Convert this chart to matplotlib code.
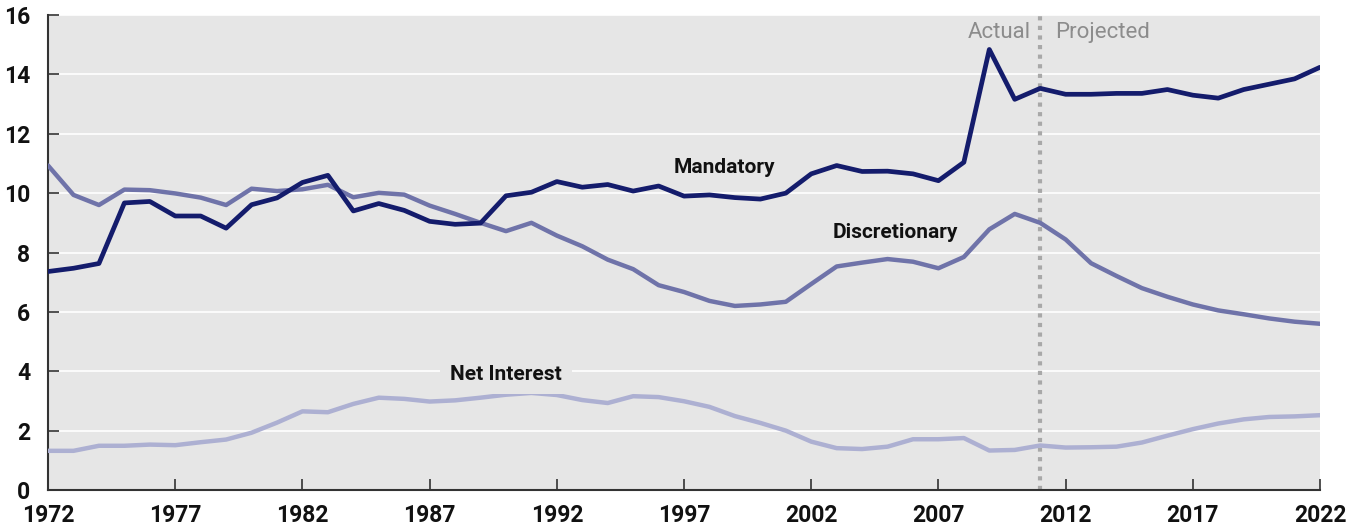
import matplotlib
matplotlib.use("Agg")
import matplotlib.pyplot as plt
import numpy as np

plt.rcParams['font.family'] = ['Roboto', 'DejaVu Sans']

# --- данные ---
years = np.arange(1972, 2023)

mandatory = [7.36, 7.47, 7.63, 9.67, 9.72, 9.23, 9.23, 8.82, 9.61, 9.84,
             10.36, 10.6, 9.4, 9.65, 9.42, 9.05, 8.95, 8.99, 9.91, 10.03,
             10.39, 10.2, 10.29, 10.07, 10.24, 9.9, 9.94, 9.85, 9.8, 10.0,
             10.65, 10.93, 10.73, 10.74, 10.65, 10.42, 11.04, 14.84, 13.16, 13.53,
             13.33, 13.33, 13.36, 13.36, 13.49, 13.3, 13.2, 13.49, 13.67, 13.85,
             14.24]

discretionary = [10.93, 9.94, 9.6, 10.12, 10.1, 9.99, 9.85, 9.6, 10.15, 10.07,
                 10.13, 10.28, 9.86, 10.01, 9.95, 9.58, 9.3, 9.0, 8.72, 9.0,
                 8.57, 8.21, 7.76, 7.44, 6.9, 6.67, 6.37, 6.2, 6.25, 6.34,
                 6.94, 7.53, 7.66, 7.78, 7.69, 7.47, 7.85, 8.78, 9.3, 9.0,
                 8.44, 7.64, 7.21, 6.8, 6.51, 6.25, 6.05, 5.92, 5.78, 5.67,
                 5.6]

net_interest = [1.32, 1.32, 1.49, 1.49, 1.53, 1.51, 1.61, 1.7, 1.93, 2.27,
                2.65, 2.62, 2.9, 3.11, 3.07, 2.98, 3.02, 3.11, 3.21, 3.27,
                3.2, 3.03, 2.93, 3.16, 3.13, 2.99, 2.8, 2.49, 2.26, 2.0,
                1.63, 1.41, 1.38, 1.46, 1.71, 1.71, 1.75, 1.33, 1.35, 1.5,
                1.43, 1.44, 1.46, 1.6, 1.83, 2.05, 2.24, 2.38, 2.46, 2.48,
                2.52]

split_year = 2011
xticks = [1972, 1977, 1982, 1987, 1992, 1997, 2002, 2007, 2012, 2017, 2022]
yticks = [0, 2, 4, 6, 8, 10, 12, 14, 16]

c_mand = "#141c6c"
c_disc = "#6f73a9"
c_net = "#adb0d2"
bg = "#e6e6e6"

fig = plt.figure(figsize=(13.54, 5.29), dpi=100)
ax = fig.add_axes([0.0355, 0.0737, 0.9394, 0.8979])
ax.set_facecolor(bg)

for y in yticks[1:]:
    ax.axhline(y, color="white", lw=1.2, zorder=1)

ax.axvline(split_year, color="#a8a8a8", lw=3, ls=(0, (1, 1.3)), zorder=2)

ax.plot(years, net_interest, color=c_net, lw=3.2, zorder=3, solid_capstyle="round")
ax.plot(years, discretionary, color=c_disc, lw=3.2, zorder=4, solid_capstyle="round")
ax.plot(years, mandatory, color=c_mand, lw=3.4, zorder=5, solid_capstyle="round")

# подписи серий
lab = dict(fontsize=15, fontweight="bold", color="#111111", ha="center", va="center", zorder=6)
ax.text(1998.6, 10.85, "Mandatory", **lab)
ax.text(2005.3, 8.69, "Discretionary", **lab)
ax.text(1990.0, 3.88, "Net Interest",
        bbox=dict(facecolor=bg, edgecolor="none", pad=7), **lab)

ax.text(2010.65, 15.4, "Actual", fontsize=16, color="#8c8c8c", ha="right", va="center")
ax.text(2011.6, 15.4, "Projected", fontsize=16, color="#8c8c8c", ha="left", va="center")

ax.set_xlim(1972, 2022)
ax.set_ylim(0, 16)
ax.set_xticks(xticks)
ax.set_yticks(yticks)
ax.tick_params(direction="in", length=8, width=1.2, color="#333333",
               labelsize=16.5, pad=10)
for t in ax.get_xticklabels() + ax.get_yticklabels():
    t.set_fontweight("bold")
    t.set_color("#111111")
ax.tick_params(axis="y", pad=13)

for s in ["top", "right"]:
    ax.spines[s].set_visible(False)
for s in ["left", "bottom"]:
    ax.spines[s].set_color("#333333")
    ax.spines[s].set_linewidth(1.5)

fig.savefig("out.png", dpi=100, facecolor="white")
